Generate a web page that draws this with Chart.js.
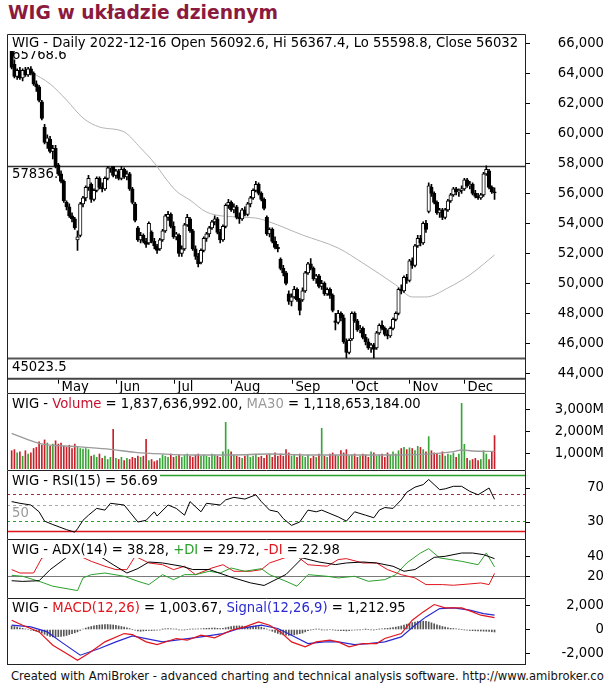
<!DOCTYPE html>
<html lang="pl">
<head>
<meta charset="UTF-8">
<title>WIG w układzie dziennym</title>
<style>
  body { margin:0; background:#fff; font-family:"DejaVu Sans",Verdana,sans-serif; }
  #wrap { position:relative; width:604px; height:688px; overflow:hidden; }
  .title { position:absolute; left:8px; top:2px; font-size:18.7px; line-height:22px; font-weight:bold; color:#8b1a3e; white-space:nowrap; }
  .pane { position:absolute; left:0; width:604px; }
  .foot { position:absolute; left:11px; top:669px; width:593px; font-size:11.6px; line-height:14px; color:#111; white-space:nowrap; overflow:hidden; }
</style>
</head>
<body>
<div id="wrap">
  <div class="title">WIG w układzie dziennym</div>
  <div class="pane" style="top:34px;height:359px"><canvas id="cPrice"></canvas></div>
  <div class="pane" style="top:393px;height:77px"><canvas id="cVol"></canvas></div>
  <div class="pane" style="top:470px;height:69px"><canvas id="cRsi"></canvas></div>
  <div class="pane" style="top:539px;height:59px"><canvas id="cAdx"></canvas></div>
  <div class="pane" style="top:598px;height:67px"><canvas id="cMacd"></canvas></div>
  <div class="foot">Created with AmiBroker - advanced charting and technical analysis software. http://www.amibroker.com</div>
</div>

<script src="https://cdn.jsdelivr.net/npm/chart.js"></script>
<script>
// ---- sesje GPW ----
const firstDay = '2022-04-05', lastDay = '2022-12-16';
const holidays = ['2022-04-15','2022-04-18','2022-05-03','2022-06-16','2022-08-15','2022-11-01','2022-11-11'];
const monthNames = ['Jan','Feb','Mar','Apr','May','Jun','Jul','Aug','Sep','Oct','Nov','Dec'];

// ---- WIG OHLC ----
const opens = [
  65550,64600,63800,64200,63700,64200,63900,64300,64000,63300,
  63100,62100,60400,59400,59600,58800,59000,57900,57300,56800,
  55400,55100,54500,54300,52900,53200,55300,55700,56400,56600,
  55600,56200,57000,56400,56300,57000,57700,57800,57200,57500,
  57000,57600,57100,57300,56300,55300,53700,52900,53200,52800,
  52700,53400,52800,52500,52300,52900,53500,54400,54600,53800,
  53100,53200,52000,52300,53900,54300,53500,52300,51800,51400,
  52200,53000,53300,53700,54100,54300,53400,52900,53800,55200,
  55400,54900,55100,54400,54300,54900,54600,55300,55700,56200,
  56600,56000,55600,54400,53300,53600,52800,52400,51600,51000,
  50700,49300,48800,49100,49600,48900,48900,49500,50700,51300,
  51000,50300,50500,49800,50000,49300,49600,49200,47500,47400,
  48000,47700,46100,45400,46300,48000,47500,46900,47000,46400,
  46100,45700,45900,45700,46700,47200,47000,46600,46500,47000,
  47600,48000,49600,49500,50400,50200,51500,51200,52500,53000,
  52700,54000,54800,56400,56000,55400,54700,54900,54400,54900,
  55500,55900,56300,56100,56200,56300,56900,56500,56600,56000,
  55800,55700,55900,57300,57500,56400,56092.6
];
const highs = [
  65768.6,64900,64300,64400,64300,64400,64400,64450,64100,63500,
  63200,62200,60600,59900,59800,59200,59200,58000,57500,56900,
  55500,55300,54700,54400,53500,55400,55800,56500,57200,56700,
  56300,57100,57100,56700,57100,57800,57800,57800,57600,57600,
  57800,57700,57500,57400,56400,55400,53800,53400,53300,53000,
  54100,53500,53000,52600,53000,53600,54600,54800,54700,54100,
  53400,53300,52500,54000,54600,54400,53600,52500,52000,52300,
  53100,53400,53800,54200,54500,54400,53600,53900,55300,55600,
  55500,55300,55200,54700,55000,55100,55400,55800,56300,56800,
  56700,56100,55700,54500,53700,53700,53100,52600,51700,51200,
  50800,49500,49300,49800,49700,49000,49700,50800,51400,51650,
  51100,50600,50600,50200,50100,49700,49700,49300,48000,48200,
  48100,47900,46300,46300,48100,48100,47600,47200,47100,46600,
  46300,46000,46000,46800,47300,47500,47100,46900,47100,47700,
  48100,49700,49900,50500,50600,51600,51700,52600,53200,53200,
  54100,54200,56700,56600,56100,55500,55000,55000,55000,55600,
  56000,56400,56400,56300,56500,57000,57000,56800,56700,56200,
  56000,56000,57400,57836,57600,56500,56367.4
];
const lows = [
  64300,63700,63600,63600,63500,63800,63800,63900,63200,62800,
  62100,60900,59300,59000,58700,58300,57700,57200,56700,55400,
  54900,54400,54100,53600,52200,53100,55100,55500,56200,55400,
  55500,56100,56300,56100,56200,56900,57400,57100,57000,56900,
  56900,57000,56900,56200,55300,54100,52800,52700,52700,52400,
  52600,52700,52300,52000,52200,52800,53400,54200,53700,53000,
  52900,51800,51800,52200,53800,53400,52200,51600,51100,51300,
  52100,52800,53100,53600,53900,53300,52700,52800,53700,55000,
  54800,54700,54300,54000,54200,54500,54500,55100,55600,56100,
  55900,55500,54900,53200,53100,52700,52300,52100,50900,50500,
  49900,48600,48500,49000,48800,47900,48800,49400,50600,50900,
  50200,50000,49700,49600,49200,49200,49000,48100,46900,47300,
  47500,46000,45023.5,45300,46200,47400,46800,46700,46300,45900,
  45600,45400,45030,45600,46600,46900,46500,46300,46400,46900,
  47500,47900,49300,49400,50000,50100,51000,51100,52400,52500,
  52600,53400,54700,55800,55300,54600,54400,54250,54300,54800,
  55400,55800,55900,55800,56000,56200,56400,56300,55900,55700,
  55600,55600,55800,57200,56300,56000,55598.8
];
const closes = [
  64400,63800,64200,63700,64200,63900,64300,64000,63300,63100,
  62200,61000,59400,59700,58800,59000,57800,57300,56800,55500,
  55100,54500,54300,53700,53100,55300,55700,56400,57000,55600,
  56200,57000,56400,56300,57000,57700,57800,57200,57500,57000,
  57600,57100,57300,56300,55400,54200,52900,53200,52800,52600,
  54000,52800,52500,52200,52900,53500,54500,54600,53800,53100,
  53300,52000,52300,53900,54400,53500,52300,51800,51300,52200,
  53000,53300,53700,54100,54300,53400,52900,53800,55200,55400,
  54900,55100,54400,54300,54900,54600,55300,55700,56200,56600,
  56000,55600,55000,53300,53600,52800,52400,52300,51000,50700,
  50000,48800,49100,49600,48900,48200,49500,50700,51300,51000,
  50300,50500,49800,50000,49300,49600,49200,48200,47400,48000,
  47700,46100,45400,46200,48000,47500,46900,47000,46400,46100,
  45700,45900,45600,46700,47200,47000,46600,46500,47000,47600,
  48000,49600,49500,50400,50200,51500,51200,52500,53000,52700,
  54000,53600,56500,56000,55400,54700,54900,54400,54900,55500,
  55900,56300,56100,56200,56300,56900,56500,56600,56000,55800,
  55700,55900,57300,57600,56400,56100,56032
];
// srednia krocząca na wykresie ceny: [sesja, wartość]
const priceMA = [[7,64090],[14,63290],[20,62220],[26,61020],[32,60420],[41,60090],[47,59020],[52,58020],
  [56,57020],[60,56150],[65,55550],[71,54750],[82,54420],[89,54350],[94,54090],[106,53220],[119,52350],
  [128,51350],[140,49890],[146,49090],[151,49090],[159,49690],[167,50560],[176,51890]];
const hhv = 65768.6, level = 57836, llv = 45023.5;

// ---- wolumen (mln) ----
const volume = [
  1150,1200,1050,1100,900,1150,1000,1050,1250,1300,
  1550,1400,1640,1500,1350,1450,1600,1450,1500,1350,
  1300,1400,1250,1450,1300,1250,1220,1250,1200,900,
  950,850,1000,800,900,750,850,2120,800,750,
  850,700,800,750,850,800,900,850,900,1670,
  700,750,650,700,800,950,900,850,1000,850,
  900,950,850,950,1000,900,850,950,1000,900,
  950,900,850,1000,950,900,850,1100,2440,1200,
  1100,950,900,850,800,900,950,850,900,1000,
  850,900,800,950,1000,850,1050,900,1000,900,
  1200,1050,900,950,850,1000,900,850,950,800,
  900,850,1000,2170,900,850,1000,1050,950,900,
  1150,1050,1200,900,950,1000,850,900,1000,950,
  850,1100,1050,900,950,1000,850,1050,950,1100,
  1000,1150,1250,1300,1200,1280,1250,1150,1350,1300,
  1200,1100,1790,1150,1050,1000,950,1100,900,1000,
  950,1050,850,1000,3300,1440,800,700,750,800,
  700,750,1150,1000,750,1100,1837.6
];
const volumeMA = [[0,1940],[10,1485],[24,1333],[36,1212],[45,1076],[55,1000],[66,955],[80,955],[94,1000],
  [108,955],[122,955],[136,955],[150,985],[161,1106],[164,1182],[168,1136],[176,1118.65]];

// ---- RSI(15) ----
const rsi = [[0,54],[3,52],[7,50],[10,42],[12,31],[15,27],[20,21],[23,18],[24,22],[26,32],[28,38],[31,46],
  [34,44],[36,52],[41,50],[43,42],[46,30],[49,32],[52,42],[53,37],[57,50],[60,46],[63,38],[65,54],[69,42],
  [71,52],[76,50],[78,56],[81,59],[85,57],[89,62],[91,54],[94,44],[97,42],[99,34],[102,26],[105,30],[108,44],
  [111,42],[113,44],[116,40],[119,36],[122,31],[125,42],[129,38],[132,35],[134,44],[136,47],[139,46],[142,56],
  [144,65],[147,71],[150,74],[152,80],[156,68],[158,69],[161,72],[164,72],[167,66],[170,62],[174,70],[176,56.69]];
const rsiLevels = { top: 85, upper: 63, mid: 50, lower: 31, bottom: 19 };

// ---- ADX(14), +DI, -DI ----
const adx = [[0,15.4],[4,14.7],[10,15.4],[14,26.8],[20,39.6],[24,47],[28,50],[32,41],[37,32],[42,23.4],[46,28],
  [50,34.8],[55,33.8],[62,30.4],[66,27],[72,27],[80,19.1],[87,13.2],[92,10.5],[100,21.9],[106,39],[112,34.8],
  [118,32.1],[122,33.8],[128,34.8],[133,33.8],[139,30.4],[143,25.2],[147,27],[154,39.6],[158,40.7],[164,44.1],
  [168,44.1],[172,42.4],[176,38.28]];
const plusDI = [[0,21],[4,20],[10,14.8],[15,9.7],[24,5.2],[26,18.3],[29,21.7],[34,23.4],[41,20],[46,14.8],
  [50,11.4],[55,21.7],[59,16.5],[63,21.7],[67,21.7],[72,25.2],[76,23.4],[80,28.6],[85,25.2],[91,27.9],[94,21.7],
  [100,14.8],[104,9.7],[108,21.7],[115,20],[119,18.3],[125,20],[130,14.8],[136,16.5],[140,21.7],[144,33.8],
  [149,44.1],[152,48.6],[156,39],[160,37.3],[164,35.5],[170,32],[173,44.1],[176,29.72]];
const minusDI = [[0,26.9],[3,23.4],[8,23.4],[11,39],[14,40.7],[19,40.7],[22,44],[25,40.7],[29,35.5],[34,30.4],
  [38,26.9],[42,26.9],[45,40.7],[50,33.8],[55,32],[59,26.9],[63,30.4],[67,21.7],[73,28.6],[77,32],[81,25.2],
  [87,25.2],[91,26.9],[94,33.8],[100,39.6],[104,40.7],[108,32],[115,30.4],[119,37.3],[122,38.3],[128,33.8],
  [133,33.8],[137,26.9],[142,21.7],[147,18.3],[151,11.4],[157,11.4],[161,10.7],[167,12.1],[171,13.1],[174,11.4],
  [176,22.98]];

// ---- MACD(12,26), Signal(12,26,9) ----
const macd = [[0,781],[4,361],[10,-202],[15,-1319],[20,-2019],[24,-2579],[28,-2019],[34,-1039],[41,-341],[44,-424],
  [49,-1039],[53,-1263],[60,-760],[64,-900],[69,-480],[74,-704],[80,-60],[85,221],[90,641],[94,361],[98,-202],
  [102,-1039],[107,-1459],[111,-1039],[116,-900],[119,-1039],[123,-1459],[128,-1179],[133,-1179],[136,-760],
  [142,-341],[146,781],[150,1481],[154,2097],[158,1817],[164,1817],[168,1481],[171,1201],[176,1003.67]];
const signal = [[0,361],[7,221],[13,-202],[18,-1039],[25,-2159],[32,-1599],[38,-1039],[44,-536],[49,-760],[55,-1039],
  [60,-900],[69,-620],[77,-341],[83,80],[91,361],[97,81],[102,-480],[108,-1179],[114,-1039],[119,-1039],[125,-1263],
  [130,-1179],[136,-1039],[142,-620],[147,361],[151,1061],[156,1761],[161,1817],[167,1621],[172,1341],[176,1212.95]];
const macdHist = [
  300,250,200,150,100,50,0,-50,-100,-150,
  -200,-300,-400,-500,-580,-620,-620,-600,-580,-550,
  -500,-420,-350,-280,-200,-80,40,120,200,250,
  300,350,380,400,420,420,400,380,340,300,
  250,200,150,80,0,-60,-120,-150,-120,-100,
  -80,-90,-70,-50,-40,20,60,80,60,40,
  30,-20,-40,-30,0,20,30,40,50,60,
  80,100,110,120,130,100,80,100,150,200,
  250,280,300,300,280,250,230,250,280,300,
  250,200,120,40,-50,-150,-250,-330,-400,-450,
  -480,-500,-480,-450,-400,-350,-300,-200,-100,-30,
  0,30,20,-20,-40,-30,0,-30,-60,-80,
  -90,-100,-120,-100,-60,-40,-30,-20,0,10,
  0,-20,-30,0,30,60,80,100,130,160,
  200,250,300,380,450,520,580,620,680,700,
  700,680,640,560,480,400,320,250,200,150,
  100,80,50,30,0,-30,-60,-80,-100,-110,
  -120,-130,-140,-150,-170,-190,-209.28
];

// ---- osie ----
const priceTicks = [44000,46000,48000,50000,52000,54000,56000,58000,60000,62000,64000,66000];
const volTicks = [1000,2000,3000];
const rsiTicks = [30,70];
const adxTicks = [20,40];
const macdTicks = [-2000,0,2000];

// ------------------------------------------------------------
const days = [];
for (let d = new Date(firstDay + 'T12:00:00Z'); d <= new Date(lastDay + 'T12:00:00Z'); d.setUTCDate(d.getUTCDate() + 1)) {
  const s = d.toISOString().slice(0, 10), wd = d.getUTCDay();
  if (wd > 0 && wd < 6 && !holidays.includes(s)) days.push(s);
}
[opens, highs, lows, closes, volume, macdHist].forEach(a => {
  if (a.length !== days.length) throw new Error('length ' + a.length + ' vs ' + days.length);
});
const idx = days.map((d, i) => i);
const monthStarts = idx.filter(i => i > 0 && days[i].slice(5, 7) !== days[i - 1].slice(5, 7));
const isUp = i => closes[i] >= opens[i];
const pts = arr => arr.map(([x, y]) => ({x, y}));

const F = '"DejaVu Sans", Verdana, sans-serif';
const FSIZE = 13.2;
const FONT = FSIZE + 'px ' + F;
const XMIN = -1.7, XMAX = 187.1;
const meas = document.createElement('canvas').getContext('2d');
meas.font = FONT;
const tickPad = labels => 589 - 530 - Math.max(...labels.map(t => meas.measureText(t).width));
const fmtNum = v => v.toLocaleString('en-US');

const panePlugin = {
  id: 'pane',
  beforeDatasetsDraw(chart, args, o) {
    const {ctx, chartArea: a} = chart, y = chart.scales.y;
    ctx.save();
    ctx.font = FONT;
    ctx.textBaseline = 'alphabetic';
    (o.levels || []).forEach(l => {
      const py = Math.round(y.getPixelForValue(l.value)) + 0.5;
      if (l.color) {
        ctx.strokeStyle = l.color; ctx.lineWidth = l.width || 1; ctx.setLineDash(l.dash || []);
        ctx.beginPath(); ctx.moveTo(a.left, py); ctx.lineTo(a.right, py); ctx.stroke();
        ctx.setLineDash([]);
      }
      if (l.text) { ctx.fillStyle = l.textColor || '#000'; ctx.fillText(l.text, a.left + 5, py + l.dy); }
    });
    ctx.restore();
  },
  afterDraw(chart, args, o) {
    const {ctx, chartArea: a, height} = chart;
    ctx.save();
    ctx.font = FONT;
    ctx.textBaseline = 'alphabetic';
    // legenda na białym tle
    const w = o.legend.reduce((s, [t]) => s + ctx.measureText(t).width, 0);
    ctx.fillStyle = '#fff';
    ctx.fillRect(a.left + 1, 1, w + 6, o.baseline + 3);
    let x = a.left + 5;
    o.legend.forEach(([t, c]) => { ctx.fillStyle = c; ctx.fillText(t, x, o.baseline); x += ctx.measureText(t).width; });
    // oś dat
    if (o.months) {
      const xs = chart.scales.x, b = a.bottom;
      ctx.strokeStyle = '#444'; ctx.lineWidth = 2;
      ctx.beginPath(); ctx.moveTo(a.left, b + 1); ctx.lineTo(a.right, b + 1); ctx.stroke();
      ctx.lineWidth = 1; ctx.strokeStyle = '#000'; ctx.fillStyle = '#000';
      monthStarts.forEach(i => {
        const px = Math.round(xs.getPixelForValue(i)) + 0.5;
        ctx.beginPath(); ctx.moveTo(px, b + 2); ctx.lineTo(px, b + 6); ctx.stroke();
        ctx.fillText(monthNames[+days[i].slice(5, 7) - 1], px + 3, b + 13.5);
      });
    }
    // ramka
    ctx.strokeStyle = '#222'; ctx.lineWidth = 1;
    ctx.beginPath();
    ctx.moveTo(7.5, height); ctx.lineTo(7.5, 0.5); ctx.lineTo(525.5, 0.5); ctx.lineTo(525.5, height);
    if (o.last) { ctx.moveTo(7.5, height - 0.5); ctx.lineTo(525.5, height - 0.5); }
    ctx.stroke();
    ctx.restore();
  }
};

function pane(id, cfg) {
  return new Chart(document.getElementById(id), {
    type: cfg.type || 'line',
    data: {datasets: cfg.datasets},
    options: {
      responsive: true, maintainAspectRatio: false, animation: false, events: [],
      layout: {autoPadding: false, padding: {left: 7, right: 0, top: cfg.padTop, bottom: cfg.padBottom}},
      scales: {
        x: {type: 'linear', min: XMIN, max: XMAX, display: false, offset: false},
        y: {
          type: 'linear', position: 'right', min: cfg.min, max: cfg.max,
          afterFit: s => { s.width = 79; s.paddingTop = 0; s.paddingBottom = 0; },
          afterBuildTicks: s => { s.ticks = cfg.ticks.map(v => ({value: v})); },
          ticks: {callback: cfg.fmt, crossAlign: 'far', padding: tickPad(cfg.ticks.map(cfg.fmt)),
                  color: '#000', font: {family: F, size: FSIZE}},
          grid: {drawOnChartArea: false, tickLength: 5, color: '#000'},
          border: {display: false}
        }
      },
      plugins: {legend: {display: false}, tooltip: {enabled: false}, pane: cfg.pane}
    },
    plugins: [panePlugin]
  });
}

const RED = '#e0141c', GREEN = '#2ca02c', BLUE = '#2a2ad0';

pane('cPrice', {
  type: 'bar', min: 43707, max: 66620, padTop: 0, padBottom: 15.3,
  ticks: priceTicks, fmt: fmtNum,
  datasets: [
    {type: 'bar', data: idx.map(i => ({x: i, y: [opens[i], closes[i]]})),
     backgroundColor: idx.map(i => isUp(i) ? '#fff' : '#000'), borderColor: '#000', borderWidth: 1,
     borderSkipped: false, barThickness: 3.5, grouped: false, order: 1},
    {type: 'bar', data: idx.map(i => ({x: i, y: [lows[i], highs[i]]})),
     backgroundColor: '#000', barThickness: 1, grouped: false, order: 2},
    {type: 'line', data: pts(priceMA), borderColor: '#b4b4b4', borderWidth: 1, pointRadius: 0,
     cubicInterpolationMode: 'monotone', order: 3}
  ],
  pane: {
    baseline: 13, months: true,
    legend: [['WIG - Daily ' + lastDay + ' Open ' + opens[opens.length - 1] + ', Hi ' + highs[highs.length - 1] +
              ', Lo ' + lows[lows.length - 1] + ', Close ' + closes[closes.length - 1], '#000']],
    levels: [
      {value: hhv, text: String(hhv), dy: 11.5},
      {value: level, color: '#333', width: 1.5, text: '57836.', dy: 11},
      {value: llv, color: '#555', width: 2, text: String(llv), dy: 12}
    ]
  }
});

pane('cVol', {
  type: 'bar', min: 318, max: 3727, padTop: 1, padBottom: 1,
  ticks: volTicks, fmt: v => fmtNum(v) + 'M',
  datasets: [
    {type: 'bar', data: idx.map(i => ({x: i, y: volume[i]})),
     backgroundColor: idx.map(i => isUp(i) ? '#38a538' : '#c8202a'), barThickness: 1, grouped: false, order: 2},
    {type: 'line', data: pts(volumeMA), borderColor: '#9a9a9a', borderWidth: 1.3, pointRadius: 0,
     cubicInterpolationMode: 'monotone', order: 1}
  ],
  pane: {
    baseline: 15,
    legend: [['WIG - ', '#000'], ['Volume', '#c8102e'], [' = 1,837,636,992.00, ', '#000'],
             ['MA30', '#999'], [' = 1,118,653,184.00', '#000']]
  }
});

pane('cRsi', {
  min: 10, max: 90, padTop: 1, padBottom: 0,
  ticks: rsiTicks, fmt: v => String(v),
  datasets: [
    {data: pts(rsi), borderColor: '#000', borderWidth: 1, pointRadius: 0}
  ],
  pane: {
    baseline: 15,
    legend: [['WIG - RSI(15) = 56.69', '#000']],
    levels: [
      {value: rsiLevels.top, color: GREEN, width: 1.5},
      {value: rsiLevels.upper, color: '#9a2a3a', dash: [3, 3]},
      {value: rsiLevels.mid, color: '#a8a8a8', dash: [3, 3], text: '50', textColor: '#999', dy: 11},
      {value: rsiLevels.lower, color: GREEN, dash: [3, 3]},
      {value: rsiLevels.bottom, color: RED, width: 1.5}
    ]
  }
});

pane('cAdx', {
  min: -2.5, max: 57.6, padTop: 1, padBottom: 0,
  ticks: adxTicks, fmt: v => String(v),
  datasets: [
    {data: pts(adx), borderColor: '#000', borderWidth: 1, pointRadius: 0},
    {data: pts(plusDI), borderColor: GREEN, borderWidth: 1, pointRadius: 0},
    {data: pts(minusDI), borderColor: RED, borderWidth: 1, pointRadius: 0}
  ],
  pane: {
    baseline: 15,
    legend: [['WIG - ADX(14) = 38.28, ', '#000'], ['+DI', GREEN], [' = 29.72, ', '#000'],
             ['-DI', RED], [' = 22.98', '#000']],
    levels: [{value: 20, color: '#7a7a7a', width: 1}]
  }
});

pane('cMacd', {
  type: 'bar', min: -2899, max: 2563, padTop: 1, padBottom: 1,
  ticks: macdTicks, fmt: fmtNum,
  datasets: [
    {type: 'bar', data: idx.map(i => ({x: i, y: macdHist[i]})), backgroundColor: '#555',
     barThickness: 1, grouped: false, order: 3},
    {type: 'line', data: pts(signal), borderColor: BLUE, borderWidth: 1.2, pointRadius: 0, order: 2},
    {type: 'line', data: pts(macd), borderColor: RED, borderWidth: 1.2, pointRadius: 0, order: 1}
  ],
  pane: {
    baseline: 13.5, last: true,
    legend: [['WIG - ', '#000'], ['MACD(12,26)', RED], [' = 1,003.67, ', '#000'],
             ['Signal(12,26,9)', BLUE], [' = 1,212.95', '#000']]
  }
});
</script>
</body>
</html>
